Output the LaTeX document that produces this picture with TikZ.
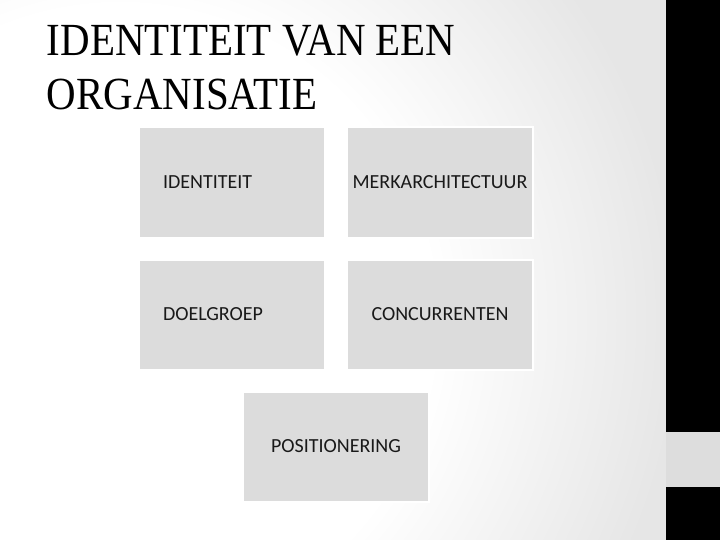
\documentclass[tikz,border=0pt]{standalone}
\usepackage{fontspec}
\usepackage{graphicx}
\newfontfamily\boxfont{Carlito}
\newfontfamily\titlefont{Liberation Serif}
\definecolor{bggray}{HTML}{E6E6E6}
\definecolor{boxgray}{HTML}{DCDCDC}
\definecolor{sidegray}{HTML}{DDDDDD}
\pgfdeclareradialshading{bgshade}{\pgfpoint{0bp}{0bp}}{color(0bp)=(white); color(14bp)=(white); color(25bp)=(bggray); color(50bp)=(bggray)}
\tikzset{
  tile/.style={fill=boxgray, draw=white, line width=2pt, minimum width=186pt, minimum height=110pt, inner sep=0pt, font=\boxfont\fontsize{20}{24}\selectfont, text=black!90},
  tileleft/.style={tile, text width=138pt, align=left, inner xsep=24pt},
  tilecenter/.style={tile, align=center},
  titletext/.style={anchor=base west, inner sep=0pt, font=\titlefont\fontsize{46}{54}\selectfont, text=black}
}
\begin{document}
\begin{tikzpicture}[x=1pt,y=-1pt]
\useasboundingbox (0,0) rectangle (720,540);
\begin{scope}
  \clip (0,0) rectangle (666,540);
  \fill[bggray] (0,0) rectangle (666,540);
  \shade[shading=bgshade] (120,320) circle (560);
\end{scope}
\fill[black] (666,0) rectangle (720,540);
\fill[sidegray] (666,432) rectangle (720,487);

\node[titletext] (title1) at (46.7,55.7) {\scalebox{0.89}[1]{IDENTITEIT VAN EEN}};
\node[titletext] (title2) at (46.7,110) {\scalebox{0.89}[1]{ORGANISATIE}};

\node[tileleft] (identiteit) at (232,182.5) {IDENTITEIT};
\node[tilecenter] (merk) at (440,182.5) {MERKARCHITECTUUR};
\node[tileleft] (doelgroep) at (232,314.5) {DOELGROEP};
\node[tilecenter] (concurrenten) at (440,314.5) {CONCURRENTEN};
\node[tilecenter] (positionering) at (336,446.5) {POSITIONERING};
\end{tikzpicture}
\end{document}
